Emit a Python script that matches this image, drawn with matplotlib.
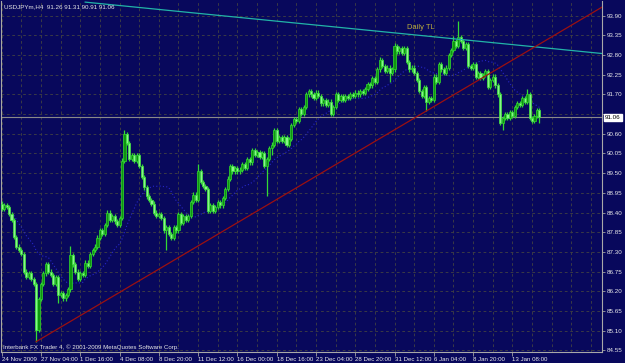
import numpy as np
import pandas as pd
import matplotlib
matplotlib.use('Agg')
import matplotlib.pyplot as plt
from matplotlib.transforms import blended_transform_factory

# ---------------------------------------------------------------
# USDJPYm H4 candles (open of each bar = previous close)
# ---------------------------------------------------------------
symbol = 'USDJPYm,H4'
first_open = 88.65
closes = [
    88.50, 88.60, 88.55, 88.35, 88.20, 87.72, 87.45, 87.35, 87.25, 86.75,
    86.60, 86.70, 86.55, 86.40, 85.12, 85.99, 86.40, 86.70, 86.95, 86.75,
    86.65, 86.40, 86.60, 86.10, 86.15, 86.00, 86.10, 86.25, 87.20, 86.95,
    86.75, 86.55, 86.70, 86.65, 87.00, 86.90, 87.25, 87.35, 87.45, 87.70,
    87.90, 87.80, 88.05, 88.40, 88.20, 88.30, 88.15, 88.05, 88.25, 89.85,
    90.60, 90.35, 89.90, 90.00, 89.85, 90.00, 89.70, 89.40, 89.10, 88.85,
    88.75, 88.65, 88.40, 88.30, 88.35, 88.25, 87.90, 88.00, 87.80, 87.70,
    88.00, 87.90, 88.35, 88.10, 88.30, 88.20, 88.30, 88.70, 88.90, 88.75,
    89.55, 89.25, 89.15, 89.05, 88.45, 88.60, 88.45, 88.55, 88.70, 88.60,
    88.80, 89.05, 89.35, 89.70, 89.55, 89.65, 89.55, 89.60, 89.75, 89.65,
    89.90, 89.80, 90.15, 90.00, 90.10, 89.95, 90.05, 89.70, 89.90, 90.20,
    90.30, 90.70, 90.40, 90.50, 90.40, 90.50, 90.30, 90.45, 90.85, 91.00,
    90.95, 91.30, 91.15, 91.35, 91.70, 91.80, 91.70, 91.60, 91.75, 91.65,
    91.45, 91.55, 91.40, 91.50, 91.15, 91.35, 91.70, 91.55, 91.65, 91.55,
    91.65, 91.60, 91.70, 91.65, 91.75, 91.70, 91.80, 91.75, 91.85, 92.00,
    91.95, 92.15, 92.05, 92.40, 92.65, 92.50, 92.35, 92.45, 92.30, 92.40,
    93.05, 92.90, 93.00, 92.85, 93.00, 92.60, 92.40, 92.45, 92.30, 92.10,
    91.80, 91.65, 91.90, 91.50, 91.60, 91.55, 92.20, 92.05, 92.55, 92.40,
    92.30, 92.45, 92.80, 92.95, 93.20, 93.05, 93.30, 93.20, 93.00, 93.10,
    92.50, 92.45, 92.55, 92.20, 92.30, 92.15, 92.25, 92.35, 91.90, 92.10,
    92.20, 91.95, 91.70, 90.90, 91.05, 91.15, 91.05, 91.20, 91.10, 91.35,
    91.45, 91.40, 91.60, 91.50, 91.70, 91.05, 90.95, 91.10, 91.26, 91.06,
]
# wick lengths beyond the body (price units)
wick_default = 0.06
long_upper_wicks = {28: 0.27, 50: 0.10, 80: 0.22, 154: 0.10, 160: 0.10,
                    184: 0.12, 186: 0.45, 214: 0.15, 219: 0.05}
long_lower_wicks = {14: 0.33, 23: 0.23, 67: 0.55, 108: 0.85, 110: 0.20,
                    158: 0.24, 173: 0.25, 204: 0.19, 219: 0.15}

ma_period = 20

# trend lines, anchored as (bar, price)
daily_tl_bars = [34, 245]
daily_tl_prices = [94.28, 92.84]
support_tl_bars = [14, 245]
support_tl_prices = [84.79, 94.16]
daily_tl_label = 'Daily TL'
daily_tl_label_pos = (165.1, 93.58)

price_levels = [84.55, 85.10, 85.65, 86.20, 86.75, 87.30, 87.85, 88.40, 88.95,
                89.50, 90.05, 90.60, 91.15, 91.70, 92.25, 92.80, 93.35, 93.90]
date_labels = ['24 Nov 2009', '27 Nov 04:00', '1 Dec 16:00', '4 Dec 08:00',
               '8 Dec 20:00', '11 Dec 12:00', '16 Dec 00:00', '18 Dec 16:00',
               '23 Dec 04:00', '28 Dec 20:00', '31 Dec 12:00', '6 Jan 04:00',
               '8 Jan 20:00', '13 Jan 08:00']
bars_per_label = 16
copyright_text = 'Interbank FX Trader 4, \u00a9 2001-2009 MetaQuotes Software Corp.'

# colours
BG = '#08085c'
GRID = '#3e3e44'
BULL = '#0e960e'
BULL_EDGE = '#30d030'
BEAR = '#8af48a'
BEAR_EDGE = '#40e040'
WICK = '#34d834'
TEAL = '#22b4a8'
RED = '#9c1010'
TEXT = '#e8e8e8'

plt.rcParams['font.family'] = ['Liberation Sans', 'DejaVu Sans']


def candles(ax, closes, first_open):
    '''draws the candle bodies and wicks, returns the last bar ohlc'''
    n = len(closes)
    idx = np.arange(n)
    c = np.array(closes)
    o = np.r_[first_open, c[:-1]]
    top = np.maximum(o, c)
    bot = np.minimum(o, c)
    upw = np.array([long_upper_wicks.get(i, wick_default) for i in range(n)])
    dnw = np.array([long_lower_wicks.get(i, wick_default) for i in range(n)])
    hi = top + upw
    lo = bot - dnw
    ax.vlines(idx, lo, hi, color=WICK, lw=0.9, zorder=3)
    height = np.maximum(top - bot, 0.025)
    bull = c >= o
    ax.bar(idx[bull], height[bull], bottom=bot[bull], width=0.85, color=BULL,
           edgecolor=BULL_EDGE, lw=0.55, zorder=4)
    ax.bar(idx[~bull], height[~bull], bottom=bot[~bull], width=0.85, color=BEAR,
           edgecolor=BEAR_EDGE, lw=0.55, zorder=4)
    return o[-1], hi[-1], lo[-1], c[-1]


fig = plt.figure(figsize=(6.25, 3.63), dpi=100, facecolor=BG)
ax = fig.add_axes([1 / 625, 11 / 363, 601 / 625, 351 / 363])
ax.set_facecolor(BG)

o_last, h_last, l_last, c_last = candles(ax, closes, first_open)

ma = pd.Series(closes).rolling(ma_period, min_periods=1).mean()
ax.plot(np.arange(len(closes)), ma, color='#2626c8', lw=0.8, ls=(0, (1, 2)), zorder=2)

ax.plot(daily_tl_bars, daily_tl_prices, color=TEAL, lw=0.9, zorder=5)
ax.plot(support_tl_bars, support_tl_prices, color=RED, lw=0.9, zorder=5)
ax.text(daily_tl_label_pos[0], daily_tl_label_pos[1], daily_tl_label, fontsize=5.4,
        color='#bcae3c', ha='left', va='center', zorder=6)

ax.axhline(c_last, color='#8a8a8a', lw=0.8, zorder=2)

# axes ranges: 2.455 px per bar, 35.79 px per yen
ax.set_xlim(-0.29, 244.5)
ax.set_ylim(84.5025, 94.311)

# price scale on the right
ax.yaxis.tick_right()
ax.set_yticks(price_levels)
ax.set_yticklabels(['' if abs(p - c_last) < 0.2 else '%.2f' % p for p in price_levels])
ax.tick_params(axis='y', colors='#a0a0a0', labelcolor=TEXT, length=2.5,
               width=0.6, pad=1, labelsize=4.5)

# time scale
major = [k * bars_per_label for k in range(len(date_labels))]
ax.set_xticks(major)
ax.set_xticklabels(date_labels, ha='left')
ax.set_xticks([k * 8 for k in range(31) if k * 8 not in major], minor=True)
ax.tick_params(axis='x', which='major', colors='#a0a0a0', labelcolor=TEXT,
               length=3, width=0.6, pad=0.5, labelsize=4.4)
ax.tick_params(axis='x', which='minor', length=0)

ax.grid(axis='y', color=GRID, ls=(0, (3, 3)), lw=0.65, zorder=1)
ax.grid(axis='x', which='both', color=GRID, ls=(0, (3, 3)), lw=0.65, zorder=1)
ax.set_axisbelow(True)

for side in ['left', 'right', 'bottom']:
    ax.spines[side].set_color('#a8a8a8')
    ax.spines[side].set_linewidth(0.8)
ax.spines['top'].set_visible(False)

# current price box
trans = blended_transform_factory(ax.transAxes, ax.transData)
ax.text(1.0 + 3 / 601, c_last, '%.2f' % c_last, transform=trans, ha='left',
        va='center', fontsize=4.5, color='black', clip_on=False, zorder=10,
        bbox=dict(boxstyle='square,pad=0.15', fc='white', ec='white'))

fig.text(4 / 625, 1 - 7 / 363, '%s  %.2f %.2f %.2f %.2f' % (symbol, o_last, h_last, l_last, c_last),
         ha='left', va='center', fontsize=4.5, color=TEXT)
fig.text(3 / 625, 1 - 347 / 363, copyright_text, ha='left', va='center',
         fontsize=4.4, color=TEXT)

fig.savefig('out.png', dpi=100, facecolor=fig.get_facecolor())
